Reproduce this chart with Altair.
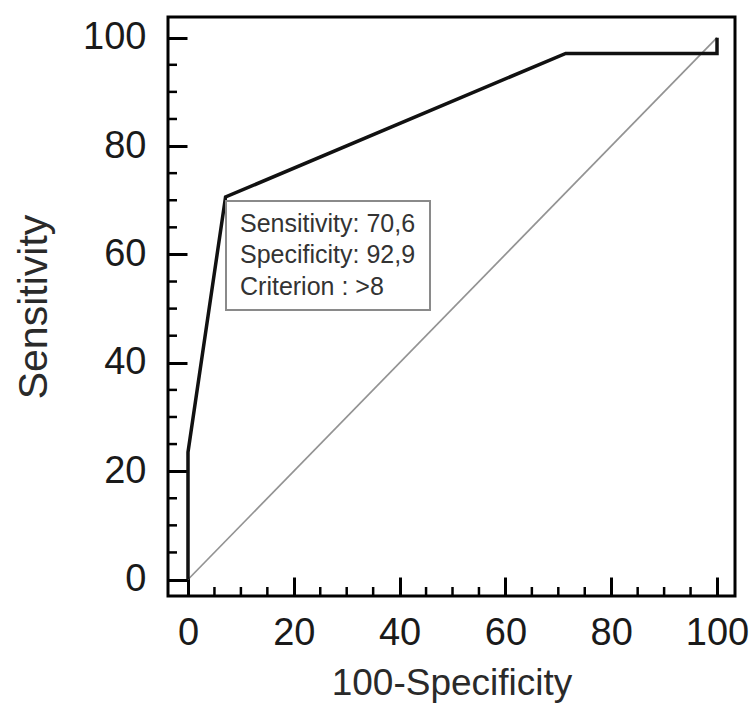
import altair as alt
import pandas as pd

# ROC curve (100-Specificity, Sensitivity)
roc_x = [0, 0, 7.1, 71.4, 100, 100]
roc_y = [0, 23.5, 70.6, 97.1, 97.1, 100]
# reference diagonal
diag_x = [0, 100]
diag_y = [0, 100]
major_ticks = [0, 20, 40, 60, 80, 100]
minor_ticks = [5, 10, 15, 25, 30, 35, 45, 50, 55, 65, 70, 75, 85, 90, 95]
annotation_lines = ["Sensitivity: 70,6", "Specificity: 92,9", "Criterion : >8"]

W, H = 567, 579
FONT = "Liberation Sans"

roc_df = pd.DataFrame({"x": roc_x, "y": roc_y, "i": list(range(len(roc_x)))})
diag_df = pd.DataFrame({"x": diag_x, "y": diag_y})
minor_df = pd.DataFrame({"x": minor_ticks, "y": minor_ticks})

xs = alt.Scale(domain=[-3.78, 103.4], nice=False, zero=False)
ys = alt.Scale(domain=[-3.04, 103.82], nice=False, zero=False)

x_axis = alt.Axis(
    values=major_ticks, offset=-19, tickSize=19, tickWidth=3, tickColor="black",
    domain=False, grid=False, labelFontSize=38, labelFont=FONT, labelColor="#1a1a1a",
    labelPadding=18, title="100-Specificity", titleFont=FONT, titleFontSize=37,
    titleFontWeight="normal", titleColor="#2a2a2a", titlePadding=13,
)
y_axis = alt.Axis(
    values=major_ticks, offset=-19, tickSize=19, tickWidth=3, tickColor="black",
    domain=False, grid=False, labelFontSize=38, labelFont=FONT, labelColor="#1a1a1a",
    labelPadding=22, title="Sensitivity", titleFont=FONT, titleFontSize=41,
    titleFontWeight="normal", titleColor="#2a2a2a", titlePadding=27,
)

diag = alt.Chart(diag_df).mark_line(color="#939393", strokeWidth=1.7).encode(
    x=alt.X("x:Q", scale=xs, axis=x_axis),
    y=alt.Y("y:Q", scale=ys, axis=y_axis),
)

roc = alt.Chart(roc_df).mark_line(color="#111111", strokeWidth=3.5, strokeJoin="miter").encode(
    x=alt.X("x:Q", scale=xs, axis=x_axis),
    y=alt.Y("y:Q", scale=ys, axis=y_axis),
    order="i:Q",
)

minor_y = alt.Chart(minor_df).mark_rule(color="black", strokeWidth=2.5).encode(
    y=alt.Y("y:Q", scale=ys, axis=y_axis),
    x=alt.value(0),
    x2=alt.value(9),
)
minor_x = alt.Chart(minor_df).mark_rule(color="black", strokeWidth=2.5).encode(
    x=alt.X("x:Q", scale=xs, axis=x_axis),
    y=alt.value(H),
    y2=alt.value(H - 9),
)

box = alt.Chart(alt.Data(values=[{}])).mark_rect(
    fill="white", stroke="#8a8a8a", strokeWidth=2
).encode(
    x=alt.value(58), x2=alt.value(262), y=alt.value(184), y2=alt.value(293)
)

note = alt.Chart(alt.Data(values=[{}])).mark_text(
    align="left", baseline="alphabetic", font=FONT, fontSize=25,
    color="#333333", lineHeight=31.7,
).encode(
    x=alt.value(72), y=alt.value(214.5), text=alt.value(annotation_lines)
)

chart = alt.layer(diag, roc, minor_y, minor_x, box, note).properties(
    width=W, height=H,
    padding={"left": 168, "top": 17, "right": 15, "bottom": 117},
    autosize="none",
    background="white",
).configure_view(stroke="black", strokeWidth=3)

chart.save("out.html", embed_options={"renderer": "svg", "actions": False})
